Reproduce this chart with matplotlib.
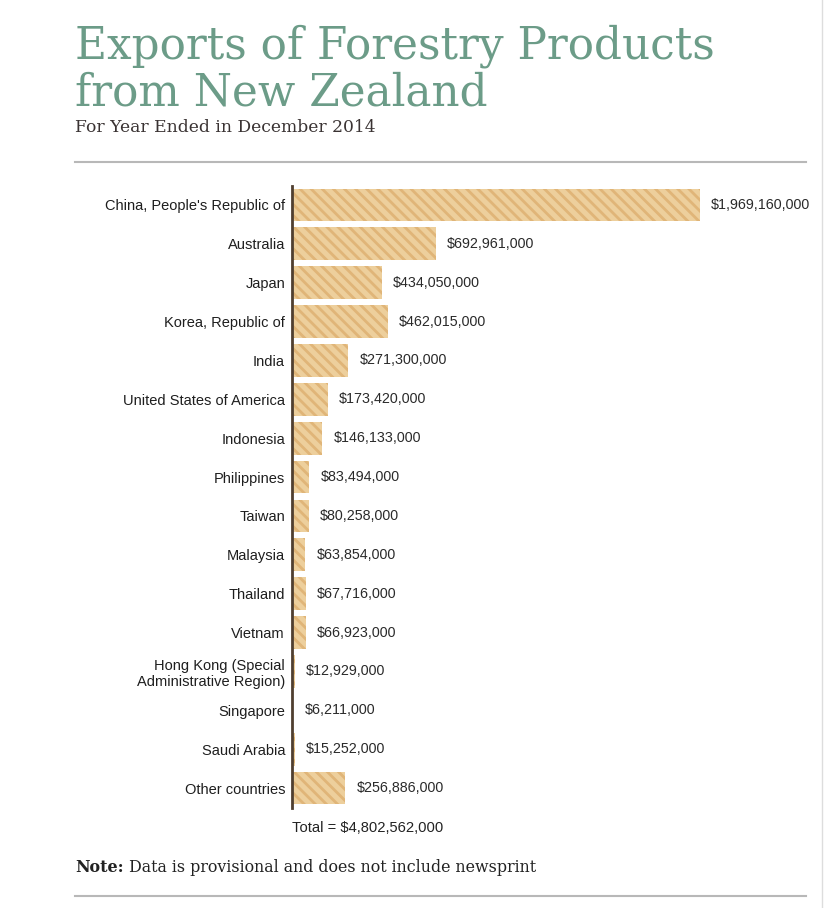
import matplotlib.pyplot as plt
import matplotlib.lines as mlines

# data (NZ$)
countries = ["China, People's Republic of", "Australia", "Japan", "Korea, Republic of",
             "India", "United States of America", "Indonesia", "Philippines", "Taiwan",
             "Malaysia", "Thailand", "Vietnam", "Hong Kong (Special\nAdministrative Region)",
             "Singapore", "Saudi Arabia", "Other countries"]
values = [1969160000, 692961000, 434050000, 462015000, 271300000, 173420000, 146133000,
          83494000, 80258000, 63854000, 67716000, 66923000, 12929000, 6211000, 15252000,
          256886000]
total = 4802562000

W, H = 830, 908
fig = plt.figure(figsize=(W / 100, H / 100), dpi=100)
fig.patch.set_facecolor('white')

# axes placed in pixel terms of the reference
ax_left, ax_right, ax_top, ax_bot = 292, 820, 185.5, 807.5
ax = fig.add_axes([ax_left / W, 1 - ax_bot / H, (ax_right - ax_left) / W, (ax_bot - ax_top) / H])

ypos = list(range(len(countries)))
plt.rcParams['hatch.linewidth'] = 2.0
bars = ax.barh(ypos, values, height=0.84, color='#edcf9c', edgecolor='#e0b578',
               hatch='\\\\\\', linewidth=0)
ax.set_ylim(len(countries) - 0.5, -0.5)
ax.set_xlim(0, values[0] * (ax_right - ax_left) / 408)

for y, v in zip(ypos, values):
    ax.annotate('${:,}'.format(v), (v, y), xytext=(8, 0), textcoords='offset points',
                va='center', ha='left', fontsize=10.3, color='#2a2a2a', family='Liberation Sans')

ax.set_yticks(ypos)
ax.set_yticklabels(countries, fontsize=10.5, color='#1e1e1e', family='Liberation Sans',
                   linespacing=1.2)
ax.tick_params(axis='y', length=0, pad=5)
ax.set_xticks([])
for s in ['top', 'right', 'bottom']:
    ax.spines[s].set_visible(False)
ax.spines['left'].set_color('#4f3f30')
ax.spines['left'].set_linewidth(2)

# total under the axis
fig.text(ax_left / W, 1 - 828 / H, 'Total = ${:,}'.format(total), fontsize=10.6,
         color='#222222', family='Liberation Sans', ha='left', va='center')

# titles
fig.text(75 / W, 1 - 58 / H, 'Exports of Forestry Products', fontsize=31.5,
         color='#6c9c88', family='DejaVu Serif', ha='left', va='baseline')
fig.text(75 / W, 1 - 105 / H, 'from New Zealand', fontsize=31.5,
         color='#6c9c88', family='DejaVu Serif', ha='left', va='baseline')
fig.text(75 / W, 1 - 132 / H, 'For Year Ended in December 2014', fontsize=12.3,
         color='#3a3333', family='DejaVu Serif', ha='left', va='baseline')

# note
note = fig.text(75 / W, 1 - 872 / H, 'Note:', fontsize=11.4, color='#222222',
                family='DejaVu Serif', weight='bold', ha='left', va='baseline')
ax.annotate('Data is provisional and does not include newsprint', xy=(1, 0), xycoords=note,
            xytext=(4, 0), textcoords='offset points', fontsize=11.4, color='#222222',
            family='DejaVu Serif', ha='left', va='bottom', annotation_clip=False)

# rules
fig.add_artist(mlines.Line2D([75 / W, 806 / W], [1 - 162 / H] * 2, color='#b8b8b8', lw=1.5))
fig.add_artist(mlines.Line2D([75 / W, 806 / W], [1 - 896 / H] * 2, color='#b8b8b8', lw=1.5))
fig.add_artist(mlines.Line2D([822 / W] * 2, [0, 1], color='#dddddd', lw=1))

fig.savefig('out.png', dpi=100)
